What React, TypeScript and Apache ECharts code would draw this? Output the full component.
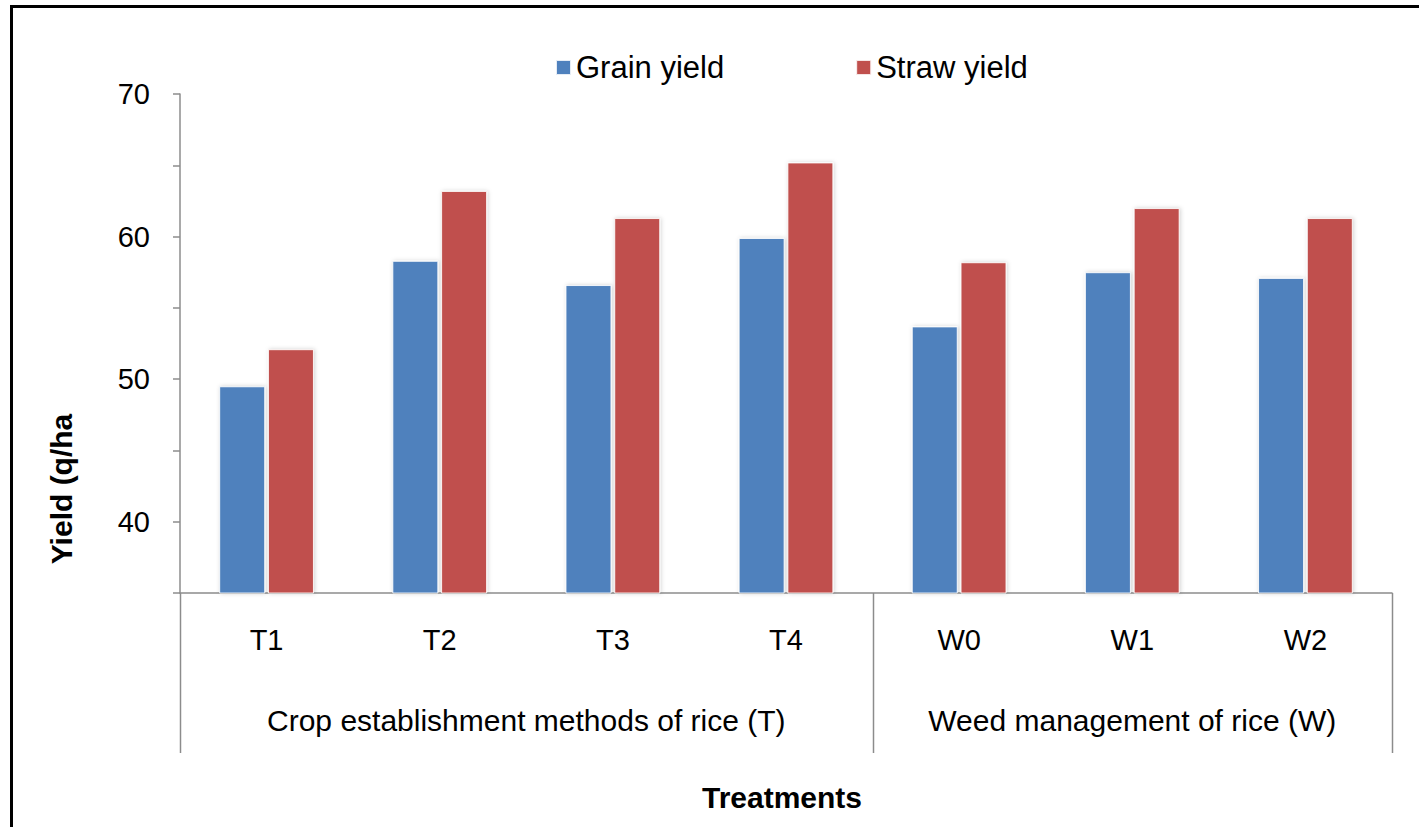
import React, { useEffect, useRef } from "react";
import * as echarts from "echarts";

const categories = ["T1", "T2", "T3", "T4", "W0", "W1", "W2"];
const grainYield = [49.5, 58.3, 56.6, 59.9, 53.7, 57.5, 57.1];
const strawYield = [52.1, 63.2, 61.3, 65.2, 58.2, 62.0, 61.3];
const groupNames = ["Crop establishment methods of rice (T)", "Weed management of rice (W)"];
const groupSizes = [4, 3];
const yLabels = [40, 50, 60, 70];

const FONT = "'Liberation Sans', Arial, sans-serif";
const AXIS_COLOR = "#8c8c8c";

export default function App() {
  const ref = useRef<HTMLDivElement>(null);

  useEffect(() => {
    if (!ref.current) return;
    const chart = echarts.init(ref.current, null, { renderer: "svg" });
    const gridLeft = 180;
    const gridRight = 27;
    const gridTop = 94;
    const gridBottom = 234;
    const W = 1419;
    const H = 827;
    const plotW = W - gridLeft - gridRight;
    const axisY = H - gridBottom;
    const catW = plotW / categories.length;

    const graphics: any[] = [];
    // frame
    graphics.push({
      type: "rect",
      shape: { x: 11.5, y: 6.5, width: 1440, height: 860 },
      style: { fill: "none", stroke: "#000", lineWidth: 3 },
      silent: true,
    });
    // group separators and labels
    let start = 0;
    const bounds = [0];
    groupSizes.forEach((n, gi) => {
      const x0 = gridLeft + start * catW;
      const x1 = gridLeft + (start + n) * catW;
      graphics.push({
        type: "text",
        x: (x0 + x1) / 2,
        y: 720,
        style: {
          text: groupNames[gi],
          font: `30px ${FONT}`,
          fill: "#000",
          align: "center",
          verticalAlign: "middle",
        },
      });
      start += n;
      bounds.push(start);
    });
    bounds.forEach((b) => {
      const x = Math.round(gridLeft + b * catW) + 0.5;
      graphics.push({
        type: "line",
        shape: { x1: x, y1: axisY, x2: x, y2: 753 },
        style: { stroke: AXIS_COLOR, lineWidth: 1.5 },
        silent: true,
      });
    });
    // axis titles
    graphics.push({
      type: "text",
      x: 61,
      y: 489,
      rotation: Math.PI / 2,
      style: {
        text: "Yield (q/ha",
        font: `bold 30px ${FONT}`,
        fill: "#000",
        align: "center",
        verticalAlign: "middle",
      },
    });
    graphics.push({
      type: "text",
      x: 782,
      y: 797,
      style: {
        text: "Treatments",
        font: `bold 30px ${FONT}`,
        fill: "#000",
        align: "center",
        verticalAlign: "middle",
      },
    });

    const barStyle = (color: string) => ({
      color,
      borderColor: "rgba(255,255,255,0.85)",
      borderWidth: 1,
      shadowColor: "rgba(0,0,0,0.18)",
      shadowBlur: 4,
      shadowOffsetX: 1,
      shadowOffsetY: 0,
    });

    chart.setOption({
      animation: false,
      backgroundColor: "#fff",
      legend: {
        left: 550,
        top: 47,
        icon: "rect",
        itemWidth: 15,
        itemHeight: 15,
        itemGap: 131,
        textStyle: { fontFamily: FONT, fontSize: 31, color: "#000" },
        data: ["Grain yield", "Straw yield"],
      },
      grid: { left: gridLeft, right: gridRight, top: gridTop, bottom: gridBottom, containLabel: false },
      xAxis: {
        type: "category",
        data: categories,
        axisLine: { lineStyle: { color: AXIS_COLOR, width: 1.5 } },
        axisTick: { show: false },
        axisLabel: { margin: 32, fontFamily: FONT, fontSize: 29, color: "#000" },
      },
      yAxis: {
        type: "value",
        min: 35,
        max: 70,
        interval: 5,
        splitLine: { show: false },
        axisLine: { show: true, lineStyle: { color: AXIS_COLOR, width: 1.5 } },
        axisTick: { show: true, length: 7, lineStyle: { color: AXIS_COLOR, width: 1.5 } },
        axisLabel: {
          margin: 30,
          fontFamily: FONT,
          fontSize: 29,
          color: "#000",
          formatter: (v: number) => (yLabels.indexOf(v) >= 0 ? String(v) : ""),
        },
      },
      series: [
        {
          name: "Grain yield",
          type: "bar",
          data: grainYield,
          barWidth: 46,
          barGap: "6%",
          itemStyle: barStyle("#4F81BD"),
        },
        {
          name: "Straw yield",
          type: "bar",
          data: strawYield,
          barWidth: 46,
          barGap: "6%",
          itemStyle: barStyle("#C0504D"),
        },
      ],
      graphic: graphics,
    });
    return () => chart.dispose();
  }, []);

  return (
    <div
      ref={ref}
      style={{ position: "fixed", left: 0, top: 0, width: 1419, height: 827 }}
    />
  );
}
